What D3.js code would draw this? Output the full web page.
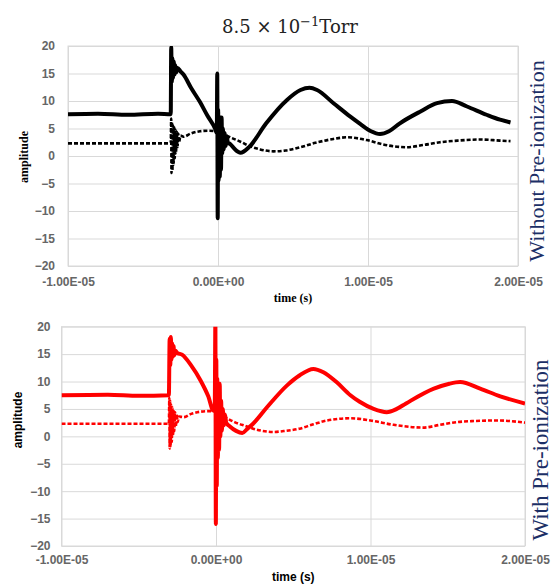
<!DOCTYPE html>
<html lang="en">
<head>
  <meta charset="UTF-8">
  <title>Pre-ionization waveforms</title>
  <style>
    body {
      margin: 0;
      background-color: #fff;
    }

    .grid line {
      stroke: #d9d9d9;
      stroke-width: 1;
    }

    .grid path {
      display: none;
    }

    .tick-labels path,
    .tick-labels line {
      display: none;
    }

    .tick-labels text {
      font-family: "Liberation Sans", Arial, sans-serif;
      font-size: 12px;
      font-weight: bold;
      fill: #666;
    }
  </style>
</head>
<body>
  <svg id="chart" width="552" height="584"></svg>
  <script src="https://d3js.org/d3.v7.min.js"></script>
  <script>
    // time in microseconds, amplitude
    const xTicks = [-1e-5, 0, 1e-5, 2e-5];
    const yTicks = [-20, -15, -10, -5, 0, 5, 10, 15, 20];

    const topSolid = [
      [-10, 7.6], [-8, 7.7], [-6, 7.5], [-4, 7.7], [-3.15, 7.6], [-3.12, 19.8], [-3.08, 13.5],
      [-3.04, 17.8], [-3.0, 14.2], [-2.95, 17.2], [-2.9, 14.8], [-2.85, 16.5], [-2.78, 15.2],
      [-2.7, 16.0], [-2.5, 15.4], [-2.3, 14.8], [-1.8, 12.4], [-1.2, 9.8], [-0.7, 7.3], [-0.2, 5.0],
      [-0.08, 4.2], [-0.05, 15.0], [-0.02, -11.3], [0.01, 8.5], [0.04, -4.5], [0.08, 7.2],
      [0.12, -3.8], [0.16, 6.5], [0.2, -2.5], [0.24, 7.0], [0.28, 0.5], [0.33, 5.0], [0.38, 1.2],
      [0.44, 4.2], [0.5, 1.8], [0.58, 3.6], [0.66, 2.4], [0.8, 2.2], [1.1, 1.3], [1.5, 0.6],
      [2.1, 1.7], [3.2, 5.9], [4.6, 10.2], [5.5, 12.0], [6.1, 12.4], [6.6, 12.0], [7.7, 9.6],
      [8.8, 7.2], [9.5, 5.8], [10.2, 4.5], [10.8, 4.0], [11.4, 4.5], [12.1, 5.9], [13.5, 8.1],
      [14.6, 9.6], [15.6, 10.0], [16.6, 9.0], [17.9, 7.5], [18.8, 6.6], [19.5, 6.1]
    ];

    const topDashed = [
      [-10, 2.3], [-6, 2.3], [-3.15, 2.3], [-3.12, 6.8], [-3.1, -3.1], [-3.07, 6.2], [-3.04, -2.6],
      [-3.0, 5.6], [-2.96, -1.6], [-2.92, 5.2], [-2.88, -0.4], [-2.84, 4.8], [-2.8, 0.6],
      [-2.75, 4.4], [-2.7, 1.6], [-2.65, 4.1], [-2.6, 2.5], [-2.5, 3.7], [-2.3, 3.5], [-1.8, 4.1],
      [-1.2, 4.5], [-0.6, 4.6], [-0.2, 4.5], [0.3, 4.0], [0.8, 3.4], [1.5, 2.6], [2.1, 1.8],
      [2.8, 1.2], [3.7, 0.85], [4.5, 1.0], [5.5, 1.6], [6.5, 2.4], [7.7, 3.1], [8.6, 3.4],
      [9.9, 2.9], [11, 2.1], [12.6, 1.6], [13.7, 2.0], [14.8, 2.5], [16, 2.8], [17.5, 3.0],
      [18.8, 2.8], [19.5, 2.7]
    ];

    const bottomSolid = [
      [-10, 7.5], [-7, 7.6], [-5, 7.4], [-3.05, 7.5], [-3.0, 17.8], [-2.96, 13.0], [-2.92, 18.1],
      [-2.88, 14.0], [-2.84, 17.0], [-2.8, 14.5], [-2.75, 16.5], [-2.7, 14.8], [-2.62, 15.6],
      [-2.5, 15.2], [-2.2, 14.9], [-1.6, 12.9], [-1.0, 10.2], [-0.5, 7.3], [-0.17, 4.7],
      [-0.08, 5.5], [-0.04, 21], [-0.01, -16.0], [0.02, 14], [0.05, -9], [0.08, 10.5], [0.12, -4],
      [0.16, 8.5], [0.2, -2.5], [0.24, 9.6], [0.28, 0.0], [0.33, 6.5], [0.38, 1.0], [0.44, 5.0],
      [0.5, 2.0], [0.58, 4.0], [0.66, 2.5], [0.9, 1.8], [1.3, 1.0], [1.7, 0.6], [2.0, 1.3],
      [2.4, 2.3], [3.3, 5.3], [4.6, 9.3], [5.4, 11.1], [6.3, 12.3], [6.95, 11.7], [7.8, 9.9],
      [8.7, 7.5], [9.3, 6.3], [10.2, 5.0], [11.05, 4.4], [11.7, 5.0], [12.3, 6.0], [14.1, 8.7],
      [15.1, 9.6], [15.8, 9.9], [17.1, 8.7], [18.4, 7.3], [20, 6.0]
    ];

    const bottomDashed = [
      [-10, 2.3], [-6, 2.3], [-3.05, 2.3], [-3.02, 7.0], [-3.0, -2.2], [-2.97, 6.5], [-2.94, -1.8],
      [-2.9, 5.8], [-2.86, -1.0], [-2.82, 5.3], [-2.78, 0.2], [-2.74, 4.8], [-2.7, 1.0],
      [-2.65, 4.4], [-2.6, 1.8], [-2.55, 4.0], [-2.48, 2.6], [-2.4, 3.6], [-2.1, 3.5], [-1.6, 4.1],
      [-1.0, 4.5], [-0.5, 4.6], [-0.1, 4.6], [0.58, 3.5], [1.2, 2.6], [2.0, 1.8], [2.4, 1.4],
      [3.0, 1.0], [3.7, 0.8], [4.5, 1.0], [5.4, 1.4], [6.3, 2.2], [7.2, 2.9], [8.7, 3.3],
      [10, 2.9], [11.5, 2.1], [13.4, 1.6], [14.5, 2.1], [15.6, 2.6], [16.8, 2.8], [18.2, 2.9],
      [20, 2.5]
    ];

    function sci(v) {
      if (v === 0) return '0.00E+00';
      const e = Math.floor(Math.log10(Math.abs(v)) + 1e-9);
      const m = v / Math.pow(10, e);
      return m.toFixed(2) + 'E' + (e < 0 ? '-' : '+') + String(Math.abs(e)).padStart(2, '0');
    }

    const svg = d3.select('#chart');

    // title
    const title = svg.append('text')
      .attr('x', 290)
      .attr('y', 33)
      .attr('text-anchor', 'middle')
      .style('font-family', '"DejaVu Serif", "Liberation Serif", serif')
      .style('font-size', '18px')
      .style('fill', '#222');
    title.append('tspan').text('8.5 × 10');
    title.append('tspan').attr('dy', -7).style('font-size', '13px').text('−1');
    title.append('tspan').attr('dy', 7).text('Torr');

    function drawPanel(cfg) {
      const x = d3.scaleLinear().domain([-1e-5, 2e-5]).range([cfg.left, cfg.right]);
      const y = d3.scaleLinear().domain([-20, 20]).range([cfg.bottom, cfg.top]);
      const w = cfg.right - cfg.left;
      const h = cfg.bottom - cfg.top;
      const g = svg.append('g');

      g.append('g')
        .attr('class', 'grid')
        .attr('transform', `translate(${cfg.left},0)`)
        .call(d3.axisLeft(y).tickValues(yTicks).tickSize(-w).tickFormat(''));

      g.append('g')
        .attr('class', 'grid')
        .attr('transform', `translate(0,${cfg.bottom})`)
        .call(d3.axisBottom(x).tickValues(xTicks).tickSize(-h).tickFormat(''));

      g.append('rect')
        .attr('x', cfg.left)
        .attr('y', cfg.top)
        .attr('width', w)
        .attr('height', h)
        .attr('fill', 'none')
        .attr('stroke', '#d9d9d9');

      g.append('g')
        .attr('class', 'tick-labels')
        .attr('transform', `translate(${cfg.left},0)`)
        .call(d3.axisLeft(y).tickValues(yTicks).tickSize(0).tickPadding(cfg.yPad));

      g.append('g')
        .attr('class', 'tick-labels')
        .attr('transform', `translate(0,${cfg.bottom})`)
        .call(d3.axisBottom(x).tickValues(xTicks).tickSize(0).tickPadding(cfg.xPad).tickFormat(sci));

      const clipId = 'clip-' + cfg.id;
      svg.append('clipPath')
        .attr('id', clipId)
        .append('rect')
        .attr('x', cfg.left)
        .attr('y', cfg.top)
        .attr('width', w)
        .attr('height', h);

      const line = d3.line()
        .curve(d3.curveMonotoneX)
        .x(d => x(d[0] * 1e-6))
        .y(d => y(d[1]));

      const lines = g.append('g').attr('clip-path', `url(#${clipId})`);

      lines.append('path')
        .datum(cfg.dashed)
        .attr('fill', 'none')
        .attr('stroke', cfg.color)
        .attr('stroke-width', 2.6)
        .attr('stroke-dasharray', '4,2')
        .attr('d', line);

      lines.append('path')
        .datum(cfg.solid)
        .attr('fill', 'none')
        .attr('stroke', cfg.color)
        .attr('stroke-width', 4)
        .attr('stroke-linejoin', 'round')
        .attr('d', line);

      g.append('text')
        .attr('x', (cfg.left + cfg.right) / 2)
        .attr('y', cfg.xLabelY)
        .attr('text-anchor', 'middle')
        .style('font-family', cfg.labelFont)
        .style('font-weight', 'bold')
        .style('font-size', '12px')
        .text('time (s)');

      g.append('text')
        .attr('transform', `translate(${cfg.yLabelX},${cfg.yLabelY}) rotate(-90)`)
        .attr('text-anchor', 'middle')
        .style('font-family', cfg.labelFont)
        .style('font-weight', 'bold')
        .style('font-size', '12px')
        .text('amplitude');

      g.append('text')
        .attr('transform', `translate(${cfg.sideX},${cfg.sideY}) rotate(-90)`)
        .attr('text-anchor', 'middle')
        .style('font-family', '"Liberation Serif", "Times New Roman", serif')
        .style('font-size', cfg.sideSize)
        .style('fill', '#1c2f66')
        .text(cfg.sideText);
    }

    drawPanel({
      id: 'top', left: 68, right: 518, top: 46, bottom: 266,
      yPad: 13, xPad: 11, xLabelY: 302, yLabelX: 28, yLabelY: 157,
      labelFont: '"Liberation Serif", "DejaVu Serif", serif',
      solid: topSolid, dashed: topDashed, color: '#000',
      sideX: 544, sideY: 161, sideSize: '22px', sideText: 'Without Pre-ionization'
    });

    drawPanel({
      id: 'bottom', left: 61.5, right: 525, top: 326.7, bottom: 546,
      yPad: 11, xPad: 9, xLabelY: 581, yLabelX: 22, yLabelY: 420,
      labelFont: '"Liberation Sans", Arial, sans-serif',
      solid: bottomSolid, dashed: bottomDashed, color: '#ff0000',
      sideX: 548, sideY: 450, sideSize: '23px', sideText: 'With Pre-ionization'
    });
  </script>
</body>
</html>
